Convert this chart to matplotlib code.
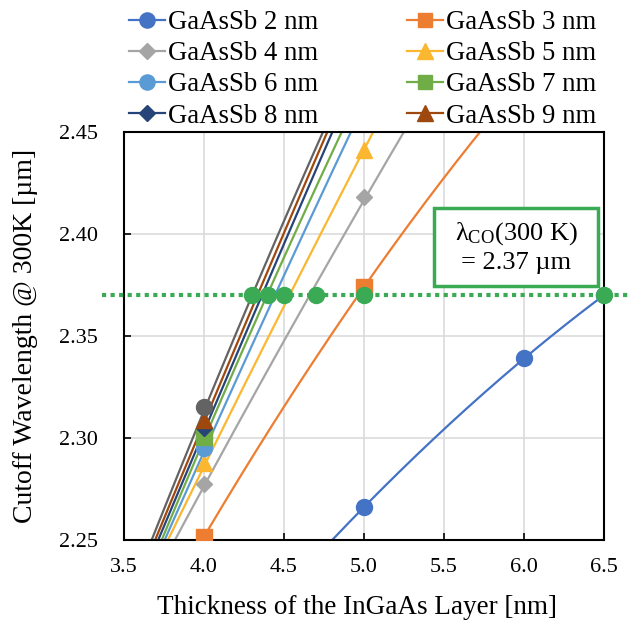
import numpy as np
import matplotlib
matplotlib.use("Agg")
import matplotlib.pyplot as plt
from matplotlib.patches import Rectangle

plt.rcParams['font.family'] = ['Liberation Serif', 'DejaVu Serif']
plt.rcParams['mathtext.fontset'] = 'custom'
plt.rcParams['mathtext.rm'] = 'Liberation Serif'
plt.rcParams['mathtext.it'] = 'Liberation Serif:italic'
plt.rcParams['xtick.major.pad'] = 13
plt.rcParams['ytick.major.pad'] = 19

# ---- data ----
labels = ['GaAsSb 2 nm', 'GaAsSb 3 nm', 'GaAsSb 4 nm', 'GaAsSb 5 nm', 'GaAsSb 6 nm',
          'GaAsSb 7 nm', 'GaAsSb 8 nm', 'GaAsSb 9 nm', 'GaAsSb 10 nm']
colors = ['#4472C4', '#ED7D31', '#A5A5A5', '#FBB730', '#5B9BD5',
          '#70AD47', '#264478', '#9E480E', '#636363']
markers = ['o', 's', 'D', '^', 'o', 's', 'D', '^', 'o']
show_in_legend = [True, True, True, True, True, True, True, True, False]

# marker points
mk_x_2 = [5.0, 6.0, 6.5];            mk_y_2 = [2.266, 2.339, 2.370]
mk_x_3 = [4.0, 5.0];                 mk_y_3 = [2.2516, 2.374]
mk_x_4 = [4.0, 5.0];                 mk_y_4 = [2.2773, 2.418]
mk_x_5 = [4.0, 5.0];                 mk_y_5 = [2.2876, 2.441]
mk_x_6 = [4.0];                      mk_y_6 = [2.295]
mk_x_7 = [4.0];                      mk_y_7 = [2.3006]
mk_x_8 = [4.0];                      mk_y_8 = [2.305]
mk_x_9 = [4.0];                      mk_y_9 = [2.309]
mk_x_10 = [4.0];                     mk_y_10 = [2.3153]

# points
cv_x_2 = [4.80, 5.0, 6.0, 6.5];              cv_y_2 = [2.25, 2.266, 2.339, 2.370]
cv_x_3 = [4.0, 5.0, 5.725];                  cv_y_3 = [2.2516, 2.374, 2.45]
cv_x_4 = [3.822, 4.0, 4.67, 5.0, 5.253];     cv_y_4 = [2.25, 2.2773, 2.37, 2.418, 2.45]
cv_x_5 = [3.78, 4.0, 4.54, 5.0, 5.053];      cv_y_5 = [2.25, 2.2876, 2.37, 2.441, 2.45]
cv_x_6 = [3.759, 4.0, 4.45, 4.916];          cv_y_6 = [2.25, 2.295, 2.37, 2.45]
cv_x_7 = [3.739, 4.0, 4.40, 4.859];          cv_y_7 = [2.25, 2.3006, 2.37, 2.45]
cv_x_8 = [3.7175, 4.0, 4.37, 4.80];          cv_y_8 = [2.25, 2.305, 2.37, 2.45]
cv_x_9 = [3.697, 4.0, 4.34, 4.769];          cv_y_9 = [2.25, 2.309, 2.37, 2.45]
cv_x_10 = [3.676, 4.0, 4.31, 4.741];         cv_y_10 = [2.25, 2.3153, 2.37, 2.45]

# target cutoff points
target_x = [4.3, 4.4, 4.5, 4.7, 5.0, 6.5]
target_y = [2.37, 2.37, 2.37, 2.37, 2.37, 2.37]
target_level = 2.37

xticks = [3.5, 4.0, 4.5, 5.0, 5.5, 6.0, 6.5]
yticks = [2.25, 2.30, 2.35, 2.40, 2.45]

mk_x = [mk_x_2, mk_x_3, mk_x_4, mk_x_5, mk_x_6, mk_x_7, mk_x_8, mk_x_9, mk_x_10]
mk_y = [mk_y_2, mk_y_3, mk_y_4, mk_y_5, mk_y_6, mk_y_7, mk_y_8, mk_y_9, mk_y_10]
cv_x = [cv_x_2, cv_x_3, cv_x_4, cv_x_5, cv_x_6, cv_x_7, cv_x_8, cv_x_9, cv_x_10]
cv_y = [cv_y_2, cv_y_3, cv_y_4, cv_y_5, cv_y_6, cv_y_7, cv_y_8, cv_y_9, cv_y_10]

fig = plt.figure(figsize=(6.31, 6.23), dpi=100)
ax = fig.add_axes([124/631, 83/623, 480/631, 408/623])

ms_map = {'o': 11.5, 's': 11, 'D': 8.5, '^': 11.5}
handles = []
for i in range(len(labels)):
    deg = 2 if len(cv_x[i]) > 2 else 1
    coef = np.polyfit(cv_x[i], cv_y[i], deg)
    xs = np.linspace(min(cv_x[i]) - 0.1, max(cv_x[i]) + 0.1, 200)
    ax.plot(xs, np.polyval(coef, xs), color=colors[i], lw=1.6, zorder=2 + i * 0.01)
    ax.plot(mk_x[i], mk_y[i], linestyle='none', marker=markers[i],
            ms=ms_map[markers[i]], color=colors[i], mec=colors[i], zorder=3 + i * 0.01)
    h, = ax.plot([], [], color=colors[i], lw=1.6, marker=markers[i],
                 ms=ms_map[markers[i]] * 0.95, mec=colors[i],
                 label=labels[i] if show_in_legend[i] else '_nolegend_')
    handles.append(h)

green = '#3AAA55'
ax.plot([3.36, 6.7], [target_level, target_level], color=green, lw=3.0,
        linestyle=(0, (1, 1.05)), dash_capstyle='butt', clip_on=False, zorder=5)
ax.plot(target_x, target_y, linestyle='none', marker='o', ms=11.5, color=green,
        mec=green, clip_on=False, zorder=6)

ax.set_xlim(3.5, 6.5)
ax.set_ylim(2.25, 2.45)
ax.set_xticks(xticks)
ax.set_yticks(yticks)
ax.set_xticklabels([f'{t:.1f}' for t in xticks])
ax.set_yticklabels([f'{t:.2f}' for t in yticks])
ax.grid(True, color='#D9D9D9', lw=1.1, zorder=0)
ax.set_axisbelow(True)
for s in ax.spines.values():
    s.set_color('black')
    s.set_linewidth(1.5)
ax.tick_params(direction='in', length=5, width=1.2, labelsize=16)
ax.xaxis.set_tick_params(pad=13)
ax.yaxis.set_tick_params(pad=19)

ax.set_xlabel('Thickness of the InGaAs Layer [nm]', fontsize=19.5)
ax.set_ylabel('Cutoff Wavelength @ 300K [µm]', fontsize=20)
ax.xaxis.set_label_coords(0.485, -0.135)
ax.yaxis.set_label_coords(-0.18, 0.5)

# annotation box
ax.add_patch(Rectangle((5.44, 2.3745), 1.02, 0.0382, fc='white', ec=green, lw=2.5,
                       zorder=7, clip_on=False))
ax.text(5.95, 2.3934, 'λ$_{\\mathrm{CO}}$(300 K)\n= 2.37 µm', fontsize=19,
        ha='center', va='center', linespacing=1.3, zorder=8)

legend_order = [0, 2, 4, 6, 1, 3, 5, 7]
fig.legend(handles=[handles[k] for k in legend_order],
           loc='upper center', bbox_to_anchor=(0.5745, 1.001), ncol=2, frameon=False,
           fontsize=19.3, handlelength=1.35, handletextpad=0.12, columnspacing=3.3,
           labelspacing=0.23, borderaxespad=0.0)

fig.savefig('out.png', dpi=100)
